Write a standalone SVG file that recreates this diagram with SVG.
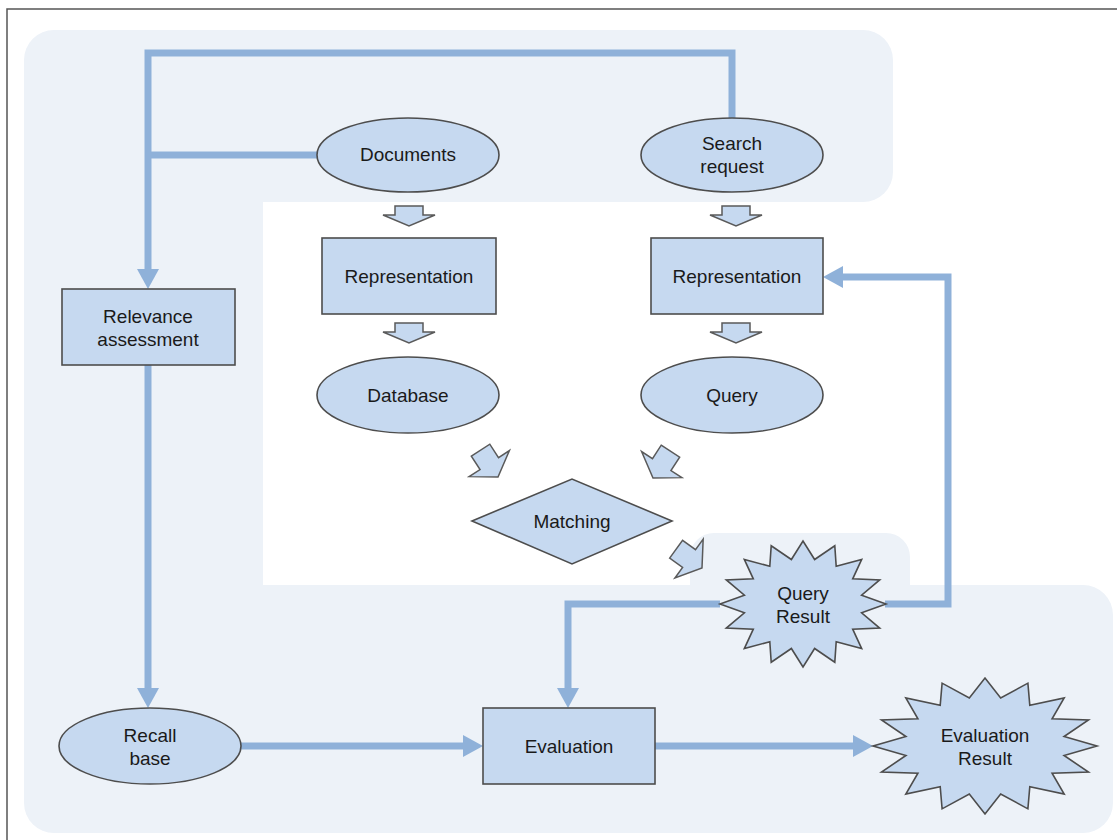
<svg xmlns="http://www.w3.org/2000/svg" xmlns:xlink="http://www.w3.org/1999/xlink" width="1117" height="840" viewBox="0 0 1117 840">
  <style>
    .bg { fill: #edf2f8; stroke: none; }
    .node { fill: #c6d9f0; stroke: #4d4d4d; stroke-width: 1.6; }
    .star { fill: #c6d9f0; stroke: #4d4d4d; stroke-width: 1.6; vector-effect: non-scaling-stroke; }
    .blk { fill: #c6d9f0; stroke: #5a5a5a; stroke-width: 1.5; stroke-linejoin: miter; }
    .lbl { font-family: "Liberation Sans", Arial, sans-serif; font-size: 19px; fill: #1a1a1a; text-anchor: middle; }
    .conn { fill: none; stroke: #8fb1d9; stroke-width: 7; stroke-linejoin: miter; }
  </style>
  <defs>
    <marker id="head" markerUnits="userSpaceOnUse" markerWidth="20" markerHeight="22" refX="2" refY="11" orient="auto">
      <path d="M0,0 L20,11 L0,22 z" fill="#8fb1d9"/>
    </marker>
    <!-- 16-point burst, unit radius 100 -->
    <polygon id="burst" class="star" points="100,0 70.6,14 92.4,38.3 59.9,40 70.7,70.7 40,59.9 38.3,92.4 14,70.6 0,100 -14,70.6 -38.3,92.4 -40,59.9 -70.7,70.7 -59.9,40 -92.4,38.3 -70.6,14 -100,0 -70.6,-14 -92.4,-38.3 -59.9,-40 -70.7,-70.7 -40,-59.9 -38.3,-92.4 -14,-70.6 0,-100 14,-70.6 38.3,-92.4 40,-59.9 70.7,-70.7 59.9,-40 92.4,-38.3 70.6,-14"/>
    <!-- block arrow pointing down, tip at origin -->
    <polygon id="downArrow" class="blk" points="-14,-20 14,-20 14,-11 26,-11 0,0 -26,-11 -14,-11"/>
    <!-- slanted block arrow, tip at origin -->
    <polygon id="slantArrow" class="blk" points="-11,-32 11,-32 11,-16 24,-16 0,0 -24,-16 -11,-16"/>
  </defs>

  <rect width="1117" height="840" fill="#ffffff"/>

  <!-- outer frame -->
  <rect x="7" y="9" width="1200" height="900" fill="none" stroke="#555555" stroke-width="1.5"/>

  <!-- shaded evaluation area -->
  <g id="background">
    <rect class="bg" x="24" y="30" width="869" height="172" rx="30" ry="30"/>
    <rect class="bg" x="24" y="60" width="239" height="740"/>
    <rect class="bg" x="24" y="585" width="1089" height="248" rx="30" ry="30"/>
    <rect class="bg" x="690" y="533" width="220" height="80" rx="24" ry="24"/>
  </g>

  <!-- connectors -->
  <g id="connectors">
    <path class="conn" d="M732,118 V53 H148 V271" marker-end="url(#head)"/>
    <path class="conn" d="M317,155 H148"/>
    <path class="conn" d="M148,365 V690" marker-end="url(#head)"/>
    <path class="conn" d="M241,746 H465" marker-end="url(#head)"/>
    <path class="conn" d="M655,746 H855" marker-end="url(#head)"/>
    <path class="conn" d="M720,604 H568 V690" marker-end="url(#head)"/>
    <path class="conn" d="M885,604 H948 V277 H841" marker-end="url(#head)"/>
  </g>

  <!-- flow arrows -->
  <g id="flow-arrows">
    <use xlink:href="#downArrow" transform="translate(409,226)"/>
    <use xlink:href="#downArrow" transform="translate(409,343)"/>
    <use xlink:href="#downArrow" transform="translate(736,226)"/>
    <use xlink:href="#downArrow" transform="translate(736,343)"/>
    <use xlink:href="#slantArrow" transform="translate(498,477) rotate(-33)"/>
    <use xlink:href="#slantArrow" transform="translate(653,478) rotate(33)"/>
    <use xlink:href="#slantArrow" transform="translate(702,568) rotate(-54)"/>
  </g>

  <g id="documents">
    <ellipse class="node" cx="408" cy="155" rx="91" ry="37"/>
    <text class="lbl" x="408" y="161">Documents</text>
  </g>

  <g id="search-request">
    <ellipse class="node" cx="732" cy="155" rx="91" ry="37"/>
    <text class="lbl" x="732" y="150">Search</text>
    <text class="lbl" x="732" y="173">request</text>
  </g>

  <g id="doc-representation">
    <rect class="node" x="322" y="238" width="174" height="76"/>
    <text class="lbl" x="409" y="283">Representation</text>
  </g>

  <g id="query-representation">
    <rect class="node" x="651" y="238" width="172" height="76"/>
    <text class="lbl" x="737" y="283">Representation</text>
  </g>

  <g id="database">
    <ellipse class="node" cx="408" cy="395" rx="91" ry="38"/>
    <text class="lbl" x="408" y="402">Database</text>
  </g>

  <g id="query">
    <ellipse class="node" cx="732" cy="395" rx="91" ry="38"/>
    <text class="lbl" x="732" y="402">Query</text>
  </g>

  <g id="matching">
    <polygon class="node" points="472,521 572,479 672,521 572,564"/>
    <text class="lbl" x="572" y="528">Matching</text>
  </g>

  <g id="relevance-assessment">
    <rect class="node" x="62" y="289" width="173" height="76"/>
    <text class="lbl" x="148" y="323">Relevance</text>
    <text class="lbl" x="148" y="346">assessment</text>
  </g>

  <g id="recall-base">
    <ellipse class="node" cx="150" cy="746" rx="91" ry="38"/>
    <text class="lbl" x="150" y="742">Recall</text>
    <text class="lbl" x="150" y="765">base</text>
  </g>

  <g id="evaluation">
    <rect class="node" x="483" y="708" width="172" height="76"/>
    <text class="lbl" x="569" y="753">Evaluation</text>
  </g>

  <g id="query-result">
    <use xlink:href="#burst" transform="translate(803,604) scale(0.83,0.63)"/>
    <text class="lbl" x="803" y="600">Query</text>
    <text class="lbl" x="803" y="623">Result</text>
  </g>

  <g id="evaluation-result">
    <use xlink:href="#burst" transform="translate(985,746) scale(1.12,0.68)"/>
    <text class="lbl" x="985" y="742">Evaluation</text>
    <text class="lbl" x="985" y="765">Result</text>
  </g>
</svg>
